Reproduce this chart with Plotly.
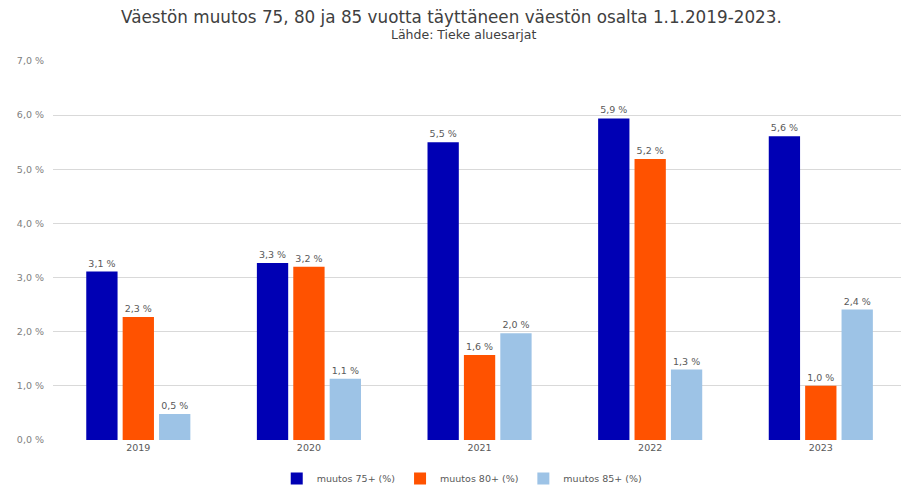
import plotly.graph_objects as go

years = ["2019", "2020", "2021", "2022", "2023"]
muutos75 = [3.11, 3.27, 5.50, 5.94, 5.61]
muutos80 = [2.27, 3.20, 1.57, 5.19, 1.00]
muutos85 = [0.48, 1.13, 1.97, 1.30, 2.41]
series_names = ["muutos 75+ (%)", "muutos 80+ (%)", "muutos 85+ (%)"]
colors = ["#0000B4", "#FF5200", "#9DC3E6"]
yticks = [0, 1, 2, 3, 4, 5, 6, 7]
yticklabels = [f"{v:.1f} %".replace(".", ",") for v in yticks]
title_text = "Väestön muutos 75, 80 ja 85 vuotta täyttäneen väestön osalta 1.1.2019-2023."
subtitle_text = "Lähde: Tieke aluesarjat"

font = "DejaVu Sans, Verdana, sans-serif"

def lab(vals):
    return [f"{v:.1f} %".replace(".", ",") for v in vals]

fig = go.Figure()
for name, vals, c in zip(series_names, [muutos75, muutos80, muutos85], colors):
    fig.add_trace(go.Bar(
        x=years, y=vals, name=name, marker=dict(color=c, line=dict(width=0)),
        text=lab(vals), textposition="outside", cliponaxis=False,
        textfont=dict(size=9.5, color="#595959", family=font),
    ))

fig.add_annotation(text=title_text, xref="paper", yref="paper", x=(451 - 53) / 848,
                   y=1 + (61 - 17) / 383, xanchor="center", yanchor="middle",
                   showarrow=False, font=dict(size=16.8, color="#404040", family=font))
fig.add_annotation(text=subtitle_text, xref="paper", yref="paper", x=(463 - 53) / 848,
                   y=1 + (61 - 34) / 383, xanchor="center", yanchor="middle",
                   showarrow=False, font=dict(size=12.5, color="#404040", family=font))

fig.update_layout(
    width=901, height=493,
    margin=dict(l=53, r=0, t=61, b=49),
    paper_bgcolor="white", plot_bgcolor="white",
    font=dict(family=font, color="#595959", size=10),
    barmode="group", bargap=0.36, bargroupgap=0.14,
    xaxis=dict(range=[-0.5, 4.47], showgrid=False, showline=False, ticks="",
               tickfont=dict(size=9.5, color="#595959")),
    yaxis=dict(range=[0, 7], tickvals=yticks, ticktext=yticklabels,
               gridcolor="#D9D9D9", gridwidth=1, zeroline=False, showline=False,
               tickfont=dict(size=9.5, color="#808080"), ticklabelstandoff=8),
    legend=dict(orientation="h", x=0.482, xanchor="center", y=-0.102, yanchor="middle",
                font=dict(size=9.5, color="#595959"), itemwidth=30, traceorder="normal"),
    showlegend=True,
)

fig.write_html("out.html")
